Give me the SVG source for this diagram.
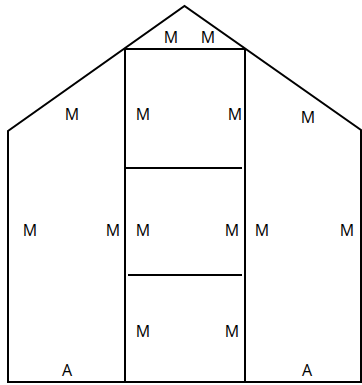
<svg xmlns="http://www.w3.org/2000/svg" width="362" height="385" viewBox="0 0 362 385">
<style>
.ln{fill:none;stroke:#000;stroke-width:2;stroke-linejoin:miter}
.t{font-family:"Open Sans","DejaVu Sans",sans-serif;font-size:16px;fill:#000;text-anchor:middle}
</style>
<rect width="362" height="385" fill="#fff"/>
<g id="outline">
<path class="ln" d="M8,382 L8,131 L184.5,6 L361,130 L361,382 Z"/>
</g>
<g id="center-column">
<path class="ln" d="M125,382 L125,49 L245,49 L245,382"/>
<line class="ln" x1="125" y1="168" x2="242" y2="168"/>
<line class="ln" x1="128" y1="275" x2="242" y2="275"/>
</g>
<g id="labels">
<text class="t" x="171" y="43">M</text>
<text class="t" x="208" y="43">M</text>
<text class="t" x="72" y="120">M</text>
<text class="t" x="143" y="120">M</text>
<text class="t" x="235" y="120">M</text>
<text class="t" x="308" y="123">M</text>
<text class="t" x="30" y="236">M</text>
<text class="t" x="113" y="236">M</text>
<text class="t" x="143" y="236">M</text>
<text class="t" x="232" y="236">M</text>
<text class="t" x="262" y="236">M</text>
<text class="t" x="347" y="236">M</text>
<text class="t" x="143" y="337">M</text>
<text class="t" x="232" y="337">M</text>
<text class="t" x="67" y="376">A</text>
<text class="t" x="307" y="376">A</text>
</g>
</svg>
